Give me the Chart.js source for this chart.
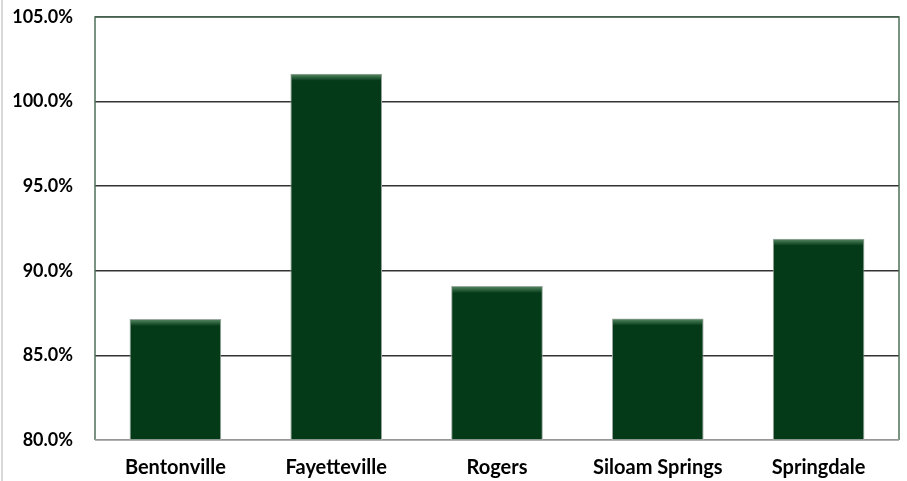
<!DOCTYPE html>
<html>
<head>
<meta charset="utf-8">
<script src="https://cdn.jsdelivr.net/npm/chart.js@4"></script>
<style>
  html, body { margin: 0; padding: 0; background: #fff; }
  #wrap { width: 907px; height: 481px; position: relative; }
</style>
</head>
<body>
<div id="wrap"><canvas id="ratio"></canvas></div>
<script>
const cities = ['Bentonville', 'Fayetteville', 'Rogers', 'Siloam Springs', 'Springdale'];
const ratios = [87.15, 101.65, 89.1, 87.18, 91.9];

const ctx = document.getElementById("ratio");

// frame, plot border and bar bevel
const frame = {
    id: 'frame',
    afterDatasetsDraw(chart) {
        const c = chart.ctx;
        const a = chart.chartArea;
        c.save();
        chart.getDatasetMeta(0).data.forEach(bar => {
            const l = bar.x - bar.width / 2;
            const g = c.createLinearGradient(0, bar.y, 0, bar.y + 7);
            g.addColorStop(0, 'rgba(120,170,130,0.75)');
            g.addColorStop(1, 'rgba(120,170,130,0)');
            c.fillStyle = g;
            c.fillRect(l + 1, bar.y + 1, bar.width - 2, 7);
        });
        c.strokeStyle = '#4f6f5a';
        c.lineWidth = 1.5;
        c.beginPath();
        c.moveTo(a.left, a.bottom);
        c.lineTo(a.left, a.top);
        c.lineTo(a.right, a.top);
        c.lineTo(a.right, a.bottom);
        c.stroke();
        c.strokeStyle = '#b8b8b8';
        c.beginPath();
        c.moveTo(a.left, a.bottom);
        c.lineTo(a.right, a.bottom);
        c.stroke();
        c.strokeStyle = '#d9d9d9';
        c.lineWidth = 2;
        c.beginPath();
        c.moveTo(2, 0);
        c.lineTo(2, 481);
        c.stroke();
        c.restore();
    }
};

const myChart = new Chart(ctx, {
    type: 'bar',
    data: {
        labels: cities,
        datasets: [
            {
                data: ratios,
                backgroundColor: '#053a19',
                borderColor: '#9aa89f',
                borderWidth: 1,
                borderSkipped: false,
                categoryPercentage: 0.57,
                barPercentage: 1
            }
        ]
    },
    options: {
        responsive: true,
        maintainAspectRatio: false,
        animation: false,
        layout: { padding: { top: 17, right: 8, left: 0, bottom: 0 } },
        plugins: { legend: { display: false }, tooltip: { enabled: false } },
        scales: {
            x: {
                grid: { display: false, drawTicks: false },
                border: { display: false },
                ticks: { color: '#000', padding: 16, font: { family: 'Lato', size: 20, weight: 'bold' } },
                afterFit(s) { s.height = 41; s.paddingLeft = 0; s.paddingRight = 0; }
            },
            y: {
                min: 80,
                max: 105,
                grid: { color: '#333', lineWidth: 1.5, drawTicks: false },
                border: { display: false },
                ticks: {
                    stepSize: 5,
                    color: '#000',
                    padding: 22,
                    font: { family: 'Lato', size: 18, weight: 'bold' },
                    callback: v => v.toFixed(1) + '%'
                },
                afterFit(s) { s.width = 95; s.paddingTop = 0; s.paddingBottom = 0; }
            }
        }
    },
    plugins: [frame]
});
</script>
</body>
</html>
